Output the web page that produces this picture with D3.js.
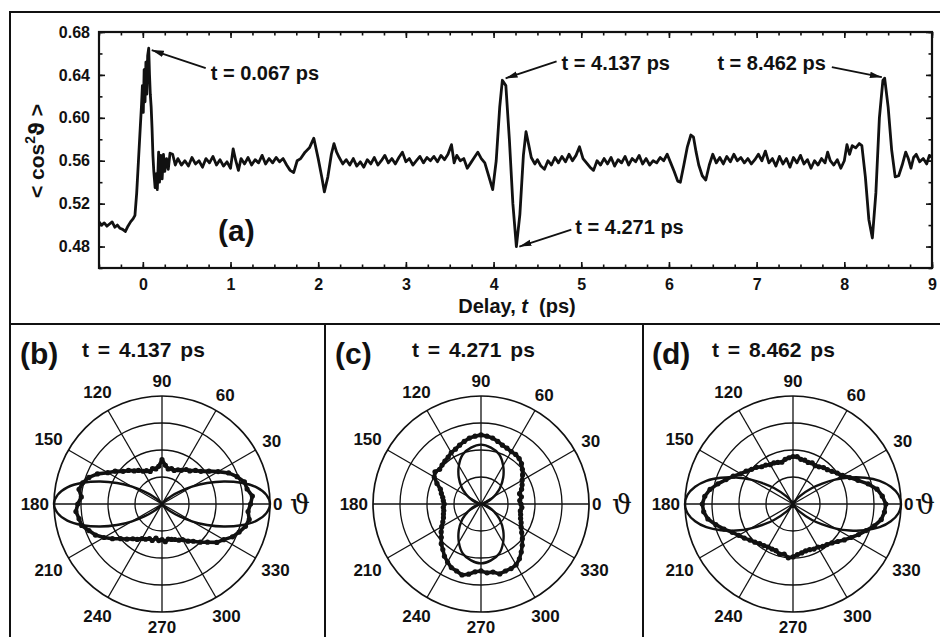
<!DOCTYPE html>
<html>
<head>
<meta charset="utf-8">
<script src="https://cdn.jsdelivr.net/npm/d3@7"></script>
<style>
body { margin: 0; background: #fff; }
text { font-family: "Liberation Sans", Arial, sans-serif; font-weight: bold; fill: #111; }
</style>
</head>
<body>
<svg id="fig" width="940" height="637"></svg>
<script>
// ---- panel (a): <cos^2 theta> vs delay ----
const delayTrace = [
  [-0.50,0.503],[-0.47,0.500],[-0.44,0.502],[-0.41,0.499],[-0.38,0.501],[-0.35,0.503],[-0.32,0.498],
  [-0.29,0.500],[-0.26,0.497],[-0.23,0.496],[-0.20,0.494],[-0.17,0.499],[-0.14,0.503],[-0.11,0.506],
  [-0.09,0.509],[-0.07,0.530],[-0.05,0.560],[-0.03,0.590],[-0.015,0.612],[-0.005,0.630],[0.005,0.605],
  [0.015,0.645],[0.025,0.615],[0.035,0.652],[0.045,0.622],[0.055,0.658],[0.067,0.665],[0.076,0.640],
  [0.085,0.622],[0.095,0.610],[0.105,0.590],[0.115,0.565],[0.125,0.550],[0.14,0.535],[0.155,0.548],
  [0.165,0.533],[0.18,0.568],[0.19,0.540],[0.205,0.565],[0.22,0.543],[0.235,0.566],[0.25,0.550],
  [0.27,0.562],[0.29,0.552],[0.31,0.567],[0.34,0.566],[0.37,0.556],[0.40,0.562],[0.44,0.556],
  [0.48,0.560],[0.52,0.555],[0.56,0.563],[0.60,0.557],[0.64,0.560],[0.68,0.554],[0.72,0.562],
  [0.76,0.558],[0.80,0.564],[0.84,0.556],[0.88,0.561],[0.92,0.555],[0.96,0.559],[1.00,0.553],
  [1.03,0.571],[1.06,0.560],[1.09,0.551],[1.12,0.562],[1.16,0.557],[1.20,0.563],[1.24,0.556],
  [1.28,0.561],[1.32,0.558],[1.36,0.565],[1.40,0.557],[1.44,0.562],[1.48,0.558],[1.52,0.563],
  [1.56,0.559],[1.60,0.562],[1.64,0.556],[1.68,0.551],[1.72,0.549],[1.76,0.560],[1.80,0.562],
  [1.85,0.568],[1.90,0.572],[1.95,0.581],[2.00,0.562],[2.04,0.545],[2.07,0.531],[2.11,0.545],
  [2.15,0.566],[2.18,0.576],[2.21,0.568],[2.24,0.563],[2.28,0.557],[2.32,0.561],[2.36,0.556],
  [2.40,0.562],[2.44,0.555],[2.48,0.559],[2.52,0.554],[2.56,0.561],[2.60,0.557],[2.64,0.563],
  [2.68,0.556],[2.72,0.560],[2.76,0.565],[2.80,0.558],[2.84,0.562],[2.88,0.557],[2.92,0.563],
  [2.96,0.568],[3.00,0.559],[3.04,0.562],[3.08,0.556],[3.12,0.560],[3.16,0.564],[3.20,0.558],
  [3.24,0.563],[3.28,0.560],[3.32,0.564],[3.36,0.559],[3.40,0.565],[3.44,0.561],[3.48,0.566],
  [3.52,0.575],[3.55,0.558],[3.58,0.565],[3.62,0.560],[3.66,0.562],[3.70,0.553],[3.74,0.558],
  [3.78,0.563],[3.82,0.568],[3.86,0.562],[3.90,0.558],[3.94,0.547],[3.99,0.533],[4.03,0.560],
  [4.07,0.610],[4.10,0.635],[4.14,0.630],[4.18,0.580],[4.22,0.520],[4.26,0.480],[4.30,0.510],
  [4.34,0.565],[4.37,0.587],[4.40,0.575],[4.43,0.563],[4.47,0.557],[4.50,0.561],[4.54,0.555],
  [4.58,0.552],[4.62,0.560],[4.66,0.556],[4.70,0.563],[4.74,0.558],[4.78,0.564],[4.82,0.559],
  [4.86,0.566],[4.90,0.560],[4.94,0.565],[4.98,0.573],[5.02,0.562],[5.06,0.558],[5.10,0.554],
  [5.14,0.551],[5.18,0.560],[5.22,0.556],[5.26,0.562],[5.30,0.557],[5.34,0.563],[5.38,0.555],
  [5.42,0.561],[5.46,0.558],[5.50,0.564],[5.54,0.556],[5.58,0.562],[5.62,0.559],[5.66,0.565],
  [5.70,0.557],[5.74,0.562],[5.78,0.556],[5.82,0.560],[5.86,0.558],[5.90,0.563],[5.94,0.560],
  [5.98,0.566],[6.02,0.558],[6.06,0.550],[6.10,0.541],[6.13,0.540],[6.17,0.556],[6.21,0.573],
  [6.25,0.584],[6.28,0.582],[6.31,0.568],[6.34,0.556],[6.38,0.546],[6.42,0.542],[6.46,0.556],
  [6.50,0.566],[6.54,0.558],[6.58,0.563],[6.62,0.557],[6.66,0.564],[6.70,0.559],[6.74,0.566],
  [6.78,0.560],[6.82,0.563],[6.86,0.558],[6.90,0.562],[6.94,0.557],[6.98,0.561],[7.02,0.566],
  [7.06,0.560],[7.10,0.569],[7.14,0.558],[7.18,0.562],[7.22,0.555],[7.26,0.564],[7.30,0.557],
  [7.34,0.562],[7.38,0.554],[7.42,0.563],[7.46,0.558],[7.50,0.565],[7.54,0.557],[7.58,0.561],
  [7.62,0.553],[7.66,0.560],[7.70,0.556],[7.74,0.562],[7.78,0.558],[7.81,0.568],[7.84,0.560],
  [7.88,0.556],[7.92,0.561],[7.96,0.553],[8.00,0.560],[8.03,0.575],[8.06,0.566],[8.09,0.574],
  [8.13,0.572],[8.17,0.576],[8.20,0.574],[8.24,0.545],[8.28,0.505],[8.32,0.488],[8.36,0.530],
  [8.40,0.600],[8.44,0.635],[8.46,0.637],[8.50,0.610],[8.54,0.570],[8.58,0.545],[8.62,0.546],
  [8.66,0.556],[8.70,0.568],[8.73,0.562],[8.76,0.553],[8.79,0.563],[8.82,0.566],[8.86,0.559],
  [8.90,0.562],[8.94,0.557],[8.97,0.565],[9.00,0.563]
];
const xTicks = [0, 1, 2, 3, 4, 5, 6, 7, 8, 9];
const yTicks = [0.48, 0.52, 0.56, 0.60, 0.64, 0.68];
const peakTimes = [0.067, 4.137, 4.271, 8.462];
const peakValues = [0.665, 0.635, 0.480, 0.637];
const peakLabels = ["t = 0.067 ps", "t = 4.137 ps", "t = 4.271 ps", "t = 8.462 ps"];

// ---- panels (b)-(d): angular distributions ----
const polarTags = ["(b)", "(c)", "(d)"];
const polarTitles = ["t = 4.137 ps", "t = 4.271 ps", "t = 8.462 ps"];
const polarAngles = [0, 30, 60, 90, 120, 150, 180, 210, 240, 270, 300, 330];
const polarRings = [0.25, 0.5, 0.75, 1];
// measured distributions, every 5 degrees from 0 to 355
const expB = [0.82,0.84,0.80,0.79,0.74,0.68,0.60,0.53,0.47,0.44,0.40,0.39,0.36,0.35,0.33,0.34,0.33,0.36,
  0.41,0.35,0.33,0.34,0.32,0.34,0.35,0.38,0.40,0.44,0.47,0.53,0.58,0.66,0.72,0.76,0.78,0.75,
  0.78,0.80,0.78,0.77,0.72,0.68,0.62,0.56,0.50,0.46,0.42,0.40,0.37,0.36,0.34,0.35,0.32,0.34,
  0.33,0.35,0.33,0.34,0.35,0.37,0.38,0.42,0.45,0.50,0.55,0.62,0.66,0.72,0.76,0.80,0.82,0.80];
const expC = [0.37,0.36,0.38,0.37,0.40,0.42,0.44,0.47,0.50,0.53,0.55,0.56,0.56,0.57,0.58,0.60,0.62,0.63,
  0.64,0.63,0.62,0.60,0.58,0.56,0.55,0.53,0.52,0.51,0.50,0.52,0.50,0.45,0.40,0.38,0.36,0.35,
  0.34,0.35,0.35,0.36,0.37,0.39,0.42,0.45,0.48,0.52,0.55,0.59,0.62,0.65,0.66,0.68,0.66,0.63,
  0.62,0.64,0.64,0.67,0.66,0.66,0.65,0.62,0.58,0.54,0.50,0.46,0.43,0.41,0.39,0.38,0.37,0.38];
const expD = [0.86,0.83,0.79,0.72,0.64,0.58,0.53,0.50,0.47,0.45,0.44,0.42,0.41,0.42,0.41,0.42,0.42,0.44,
  0.44,0.43,0.42,0.40,0.41,0.42,0.42,0.44,0.45,0.48,0.50,0.53,0.56,0.61,0.66,0.72,0.78,0.82,
  0.84,0.83,0.80,0.74,0.68,0.62,0.58,0.55,0.52,0.50,0.48,0.47,0.46,0.46,0.46,0.48,0.47,0.50,
  0.49,0.47,0.46,0.45,0.45,0.46,0.46,0.48,0.49,0.51,0.54,0.58,0.62,0.67,0.72,0.78,0.83,0.85];
// fitted curves, first quadrant (mirror-symmetric in the figure)
const lobeAngles = [0, 5, 10, 15, 20, 25, 30, 35, 40, 50, 60, 70, 80, 90];
const fitB = [1.00, 0.97, 0.89, 0.76, 0.61, 0.46, 0.32, 0.20, 0.12, 0.03, 0.004, 0, 0, 0];
const fitC = [0, 0.004, 0.017, 0.037, 0.064, 0.098, 0.14, 0.18, 0.23, 0.32, 0.41, 0.49, 0.53, 0.55];
const fitD = [1.00, 0.98, 0.92, 0.83, 0.71, 0.58, 0.45, 0.33, 0.23, 0.09, 0.022, 0.003, 0, 0];

const ink = "#111";
const svg = d3.select("#fig");

// outer frame and panel separators
const frame = svg.append("g").attr("stroke", ink).attr("stroke-width", 2).attr("fill", "none");
frame.append("path").attr("d", "M10,637V12H940");
frame.append("path").attr("d", "M10,324H940");
frame.append("path").attr("d", "M325,324V637M643,324V637");

// ================= panel (a) =================
const m = { left: 99, right: 932, top: 32, bottom: 268 };
const x = d3.scaleLinear([-0.5, 9], [m.left, m.right]);
const y = d3.scaleLinear([0.46, 0.68], [m.bottom, m.top]);
const xMinor = d3.range(-0.5, 9.01, 0.25);
const yMinor = d3.range(46, 69, 2).map(d => d / 100);

const plotA = svg.append("g");

function styleAxis(g) {
  g.select(".domain").remove();
  g.selectAll("line").attr("stroke", ink).attr("stroke-width", 1.6);
  g.attr("font-size", 16);
}

plotA.append("g").attr("transform", `translate(0,${m.bottom})`)
  .call(d3.axisBottom(x).tickValues(xTicks).tickSize(-6).tickPadding(11).tickFormat(d3.format("d")))
  .call(styleAxis);
plotA.append("g").attr("transform", `translate(0,${m.bottom})`)
  .call(d3.axisBottom(x).tickValues(xMinor).tickSize(-3.5).tickFormat(""))
  .call(styleAxis);
plotA.append("g").attr("transform", `translate(0,${m.top})`)
  .call(d3.axisTop(x).tickValues(xTicks).tickSize(-6).tickFormat(""))
  .call(styleAxis);
plotA.append("g").attr("transform", `translate(0,${m.top})`)
  .call(d3.axisTop(x).tickValues(xMinor).tickSize(-3.5).tickFormat(""))
  .call(styleAxis);
plotA.append("g").attr("transform", `translate(${m.left},0)`)
  .call(d3.axisLeft(y).tickValues(yTicks).tickSize(-6).tickPadding(9).tickFormat(d3.format(".2f")))
  .call(styleAxis);
plotA.append("g").attr("transform", `translate(${m.left},0)`)
  .call(d3.axisLeft(y).tickValues(yMinor).tickSize(-3.5).tickFormat(""))
  .call(styleAxis);
plotA.append("g").attr("transform", `translate(${m.right},0)`)
  .call(d3.axisRight(y).tickValues(yTicks).tickSize(-6).tickFormat(""))
  .call(styleAxis);
plotA.append("g").attr("transform", `translate(${m.right},0)`)
  .call(d3.axisRight(y).tickValues(yMinor).tickSize(-3.5).tickFormat(""))
  .call(styleAxis);

plotA.append("rect")
  .attr("x", x(-0.5)).attr("y", y(0.68))
  .attr("width", x(9) - x(-0.5)).attr("height", y(0.46) - y(0.68))
  .attr("fill", "none").attr("stroke", ink).attr("stroke-width", 2.2);

plotA.append("path")
  .datum(delayTrace)
  .attr("d", d3.line().x(d => x(d[0])).y(d => y(d[1])))
  .attr("fill", "none").attr("stroke", ink).attr("stroke-width", 2.8)
  .attr("stroke-linejoin", "round");

// axis titles
plotA.append("text")
  .attr("x", 517).attr("y", 313).attr("text-anchor", "middle").attr("font-size", 20)
  .attr("xml:space", "preserve")
  .call(t => {
    t.append("tspan").text("Delay, ");
    t.append("tspan").attr("font-style", "italic").text("t");
    t.append("tspan").text("  (ps)");
  });
const yLab = plotA.append("text")
  .attr("transform", "translate(44,151) rotate(-90)")
  .attr("text-anchor", "middle").attr("font-size", 21);
yLab.append("tspan").text("< cos");
yLab.append("tspan").attr("font-size", 14).attr("dy", -9).text("2");
yLab.append("tspan").attr("dy", 9).style("font-family", "'DejaVu Sans', sans-serif").text("\u03D1");
yLab.append("tspan").text(" >");

plotA.append("text").attr("x", 218).attr("y", 241).attr("font-size", 30).text("(a)");

// peak annotations with arrows
svg.append("defs").append("marker")
  .attr("id", "head").attr("viewBox", "0 0 12 8")
  .attr("refX", 12).attr("refY", 4)
  .attr("markerWidth", 12).attr("markerHeight", 8)
  .attr("markerUnits", "userSpaceOnUse").attr("orient", "auto")
  .append("path").attr("d", "M0,0.8L12,4L0,7.2Z").attr("fill", ink);

const annotLayout = [
  { tip: [3, 2], tail: [57, 20], text: [62, 32], anchor: "start" },
  { tip: [0, -2], tail: [51, -19], text: [56, -10], anchor: "start" },
  { tip: [2, 0], tail: [54, -17], text: [58, -13], anchor: "start" },
  { tip: [-3, -1], tail: [-53, -11], text: [-59, -8], anchor: "end" }
];
peakTimes.forEach((t, i) => {
  const px = x(t), py = y(peakValues[i]), L = annotLayout[i];
  plotA.append("line")
    .attr("x1", px + L.tail[0]).attr("y1", py + L.tail[1])
    .attr("x2", px + L.tip[0]).attr("y2", py + L.tip[1])
    .attr("stroke", ink).attr("stroke-width", 1.8).attr("marker-end", "url(#head)");
  plotA.append("text")
    .attr("x", px + L.text[0]).attr("y", py + L.text[1])
    .attr("text-anchor", L.anchor).attr("font-size", 20)
    .text(peakLabels[i]);
});

// ================= panels (b)-(d) =================
const R = 108;
const cy = 504;
const centers = [162, 481, 793];
const tagX = [20, 335, 652];
const titleX = [82, 412, 712];
const varthetaX = [290, 612, 915];
const rScale = d3.scaleLinear([0, 1], [0, R]);
const expAngles = d3.range(0, 360, 5);
const rad = a => a * Math.PI / 180;
const radial = d3.lineRadial().angle(d => rad(90 - d[0])).radius(d => rScale(d[1]));

function mirror(r) {
  const n = lobeAngles.length, pts = [];
  for (let i = 0; i < n; i++) pts.push([lobeAngles[i], r[i]]);
  for (let i = n - 2; i >= 0; i--) pts.push([180 - lobeAngles[i], r[i]]);
  for (let i = 1; i < n; i++) pts.push([180 + lobeAngles[i], r[i]]);
  for (let i = n - 2; i >= 1; i--) pts.push([360 - lobeAngles[i], r[i]]);
  return pts;
}

// where a rim label sits: just outside the outer ring, clear of it
function labelPos(d) {
  const c = Math.cos(rad(d)), s = Math.sin(rad(d));
  if (d === 0) return { x: R + 3, y: 0, anchor: "start" };
  if (d === 180) return { x: -R - 5, y: 0, anchor: "end" };
  const hw = String(d).length * 4.8;
  const dist = R + 6 + Math.abs(c) * hw + Math.abs(s) * 9;
  return { x: dist * c, y: -dist * s, anchor: "middle" };
}

const expSets = [expB, expC, expD];
const fitSets = [fitB, fitC, fitD];

polarTags.forEach((tag, k) => {
  const cx = centers[k];
  const g = svg.append("g").attr("transform", `translate(${cx},${cy})`);

  g.selectAll("circle.ring").data(polarRings).join("circle")
    .attr("class", "ring").attr("r", d => rScale(d))
    .attr("fill", "none").attr("stroke", ink).attr("stroke-width", d => d === 1 ? 1.7 : 1.3);
  g.selectAll("line.spoke").data(polarAngles).join("line")
    .attr("class", "spoke")
    .attr("x2", d => rScale(1) * Math.cos(rad(d)))
    .attr("y2", d => -rScale(1) * Math.sin(rad(d)))
    .attr("stroke", ink).attr("stroke-width", 1.3);

  g.selectAll("text.ang").data(polarAngles).join("text")
    .attr("class", "ang").attr("font-size", 17).attr("dy", "0.36em")
    .attr("x", d => labelPos(d).x)
    .attr("y", d => labelPos(d).y)
    .attr("text-anchor", d => labelPos(d).anchor)
    .text(d => d);

  // fitted curve
  g.append("path")
    .datum(mirror(fitSets[k]))
    .attr("d", radial.curve(d3.curveCatmullRomClosed))
    .attr("fill", "none").attr("stroke", ink).attr("stroke-width", 2.4);

  // measured distribution
  const pts = expAngles.map((a, i) => [a, expSets[k][i]]);
  g.append("path")
    .datum(pts)
    .attr("d", radial.curve(d3.curveLinearClosed))
    .attr("fill", "none").attr("stroke", ink).attr("stroke-width", 3.6)
    .attr("stroke-linejoin", "round");
  g.selectAll("circle.pt").data(pts).join("circle")
    .attr("class", "pt")
    .attr("cx", d => rScale(d[1]) * Math.cos(rad(d[0])))
    .attr("cy", d => -rScale(d[1]) * Math.sin(rad(d[0])))
    .attr("r", 2.6).attr("fill", ink);

  svg.append("text").attr("x", tagX[k]).attr("y", 364).attr("font-size", 30).text(tag);
  svg.append("text").attr("x", titleX[k]).attr("y", 357).attr("font-size", 21)
    .attr("word-spacing", 3).text(polarTitles[k]);
  svg.append("text").attr("x", varthetaX[k]).attr("y", cy + 10)
    .attr("font-size", 28).style("font-family", "'DejaVu Serif', serif").style("font-weight", "normal")
    .text("\u03D1");
});
</script>
</body>
</html>
